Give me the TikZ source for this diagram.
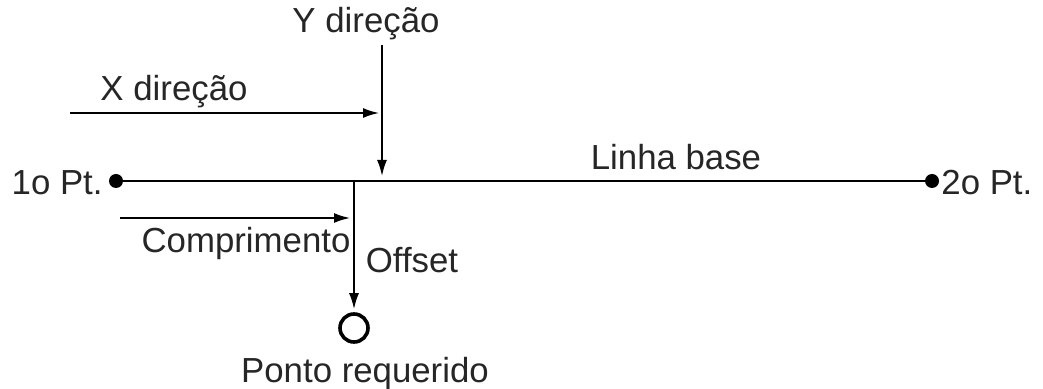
\documentclass[tikz,border=0pt]{standalone}
\usepackage{fontspec}
\setmainfont{Liberation Sans}
\usetikzlibrary{arrows.meta}

\begin{document}
\begin{tikzpicture}[x=0.5pt,y=-0.5pt,
	lbl/.style={inner sep=0pt,font=\fontsize{17.4}{20}\selectfont,text=black!85},
	dot/.style={circle,fill,inner sep=0pt,minimum size=7pt},
	arr/.style={-{Latex[length=8pt,width=5pt]},line width=0.9pt}]
			\useasboundingbox (0,0) rectangle (1043,389);
			% base line and its two points
			\node[dot] (p1) at (116,181) {};
			\node[dot] (p2) at (932,181) {};
			\draw[line width=0.9pt] (p1) -- (p2);
			\node[lbl,anchor=east] (p1lbl) at (103,183) {1o Pt.};
			\node[lbl,anchor=west] (p2lbl) at (941,183) {2o Pt.};
			\node[lbl] (base) at (676,157) {Linha base};
			% directions
			\coordinate (ytop) at (382,45);
			\coordinate (ytip) at (382,176);
			\draw[arr] (ytop) -- (ytip);
			\node[lbl] (ylbl) at (366,24) {Y direção};
			\coordinate (xstart) at (70,113);
			\coordinate (xtip) at (379,113);
			\draw[arr] (xstart) -- (xtip);
			\node[lbl] (xlbl) at (174,92) {X direção};
			% length and offset
			\coordinate (cstart) at (120,218);
			\coordinate (ctip) at (350,218);
			\draw[arr] (cstart) -- (ctip);
			\node[lbl] (clbl) at (246,244) {Comprimento};
			\coordinate (foot) at (354,181);
			\node[circle,draw,line width=1.8pt,inner sep=0pt,minimum size=14pt] (req) at (354,328) {};
			\draw[arr,shorten >=1.5pt] (foot) -- (req.north);
			\node[lbl] (olbl) at (412,260) {Offset};
			\node[lbl] (rlbl) at (365,374) {Ponto requerido};
		\end{tikzpicture}
\end{document}
